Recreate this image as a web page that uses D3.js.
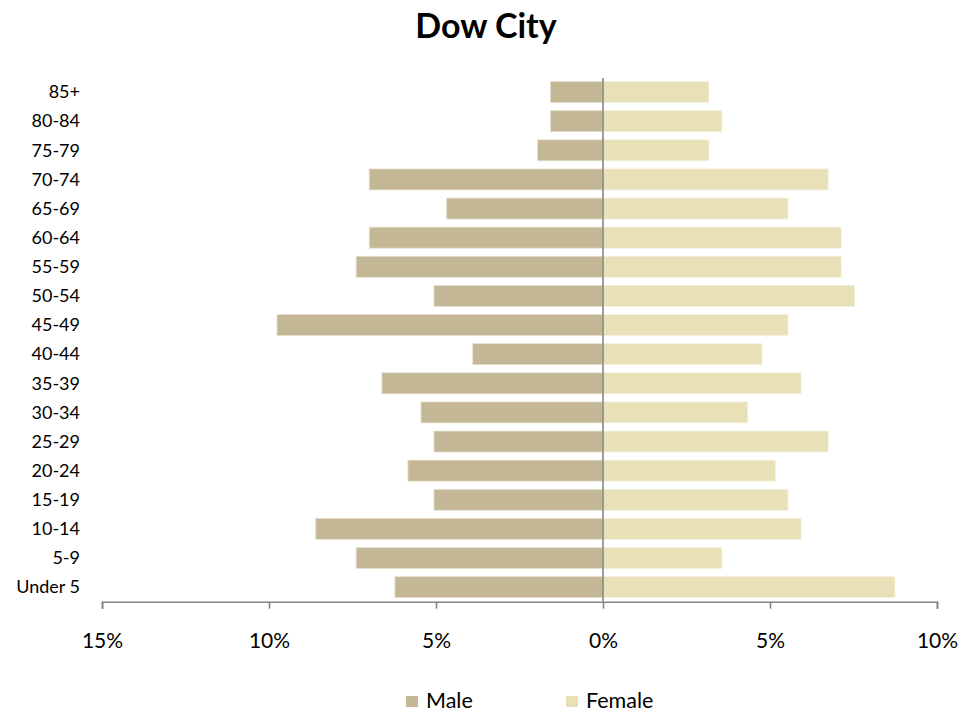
<!DOCTYPE html>
<html lang="en">
<head>
<meta charset="utf-8"/>
<title>Dow City</title>
<script src="https://cdnjs.cloudflare.com/ajax/libs/d3/7.8.5/d3.min.js"></script>
<style>
  body { margin: 0; background: #fff; }
  svg text { font-family: Lato, "Open Sans", sans-serif; fill: #000; }
</style>
</head>
<body>
<div id="chart"></div>
<script>
// age groups, youngest first
var ageGroups = ["Under 5","5-9","10-14","15-19","20-24","25-29","30-34","35-39","40-44",
                 "45-49","50-54","55-59","60-64","65-69","70-74","75-79","80-84","85+"];
// percent of population
var male   = [6.23, 7.39, 8.60, 5.06, 5.84, 5.06, 5.45, 6.62, 3.90,
              9.76, 5.06, 7.39, 7.00, 4.68, 7.00, 1.96, 1.57, 1.57];
var female = [8.74, 3.56, 5.93, 5.54, 5.16, 6.74, 4.33, 5.93, 4.76,
              5.54, 7.53, 7.13, 7.13, 5.54, 6.74, 3.17, 3.56, 3.17];
var tickValues = [-15, -10, -5, 0, 5, 10];
var seriesNames = ["Male", "Female"];

var colors = {Male: "#c4b796", Female: "#e8e1b8"};

var width = 979, height = 713;

var svg = d3.select("#chart").append("svg")
  .attr("width", width)
  .attr("height", height);

var x = d3.scaleLinear().domain([-15, 10]).range([102, 937]);
var y = d3.scaleBand()
  .domain(ageGroups.slice().reverse())
  .range([77.5, 601.7])
  .paddingInner(0.28)
  .paddingOuter(0.14);

// title
svg.append("text")
  .attr("x", 486).attr("y", 38)
  .attr("text-anchor", "middle")
  .style("font-size", "34px")
  .style("font-weight", "bold")
  .text("Dow City");

// bars
svg.append("g").selectAll("rect")
  .data(ageGroups.map(function(a, i){ return {age: a, v: male[i]}; }))
  .enter().append("rect")
  .attr("x", function(d){ return x(-d.v); })
  .attr("y", function(d){ return y(d.age); })
  .attr("width", function(d){ return x(0) - x(-d.v); })
  .attr("height", y.bandwidth())
  .attr("fill", colors.Male)
  .attr("stroke", "#e6dfcc")
  .attr("stroke-width", 0.8);

svg.append("g").selectAll("rect")
  .data(ageGroups.map(function(a, i){ return {age: a, v: female[i]}; }))
  .enter().append("rect")
  .attr("x", x(0))
  .attr("y", function(d){ return y(d.age); })
  .attr("width", function(d){ return x(d.v) - x(0); })
  .attr("height", y.bandwidth())
  .attr("fill", colors.Female)
  .attr("stroke", "#f4f0dd")
  .attr("stroke-width", 0.8);

// category labels
svg.append("g").selectAll("text")
  .data(ageGroups)
  .enter().append("text")
  .attr("x", 80)
  .attr("y", function(d){ return y(d) + y.bandwidth() / 2; })
  .attr("dy", "0.35em")
  .attr("text-anchor", "end")
  .style("font-size", "18px")
  .text(function(d){ return d; });

// zero line
svg.append("line")
  .attr("x1", x(0)).attr("x2", x(0))
  .attr("y1", 78).attr("y2", 601.7)
  .attr("stroke", "#868686")
  .attr("stroke-width", 1.6);

// x axis
var xAxis = d3.axisBottom(x)
  .tickValues(tickValues)
  .tickSize(7)
  .tickPadding(24)
  .tickFormat(function(d){ return Math.abs(d) + "%"; });

var ax = svg.append("g")
  .attr("transform", "translate(0,601.7)")
  .call(xAxis);
ax.select(".domain").attr("stroke", "#868686").attr("stroke-width", 1.6);
ax.selectAll(".tick line").attr("stroke", "#868686").attr("stroke-width", 1.6);
ax.selectAll(".tick text")
  .style("font-size", "21px")
  .style("font-family", "Lato, sans-serif")
  .attr("fill", "#000");

// legend
var legendX = [406, 566];
var legend = svg.append("g").selectAll("g")
  .data(seriesNames)
  .enter().append("g")
  .attr("transform", function(d, i){ return "translate(" + legendX[i] + ",696)"; });
legend.append("rect")
  .attr("width", 12).attr("height", 11)
  .attr("fill", function(d){ return colors[d]; });
legend.append("text")
  .attr("x", 20).attr("y", 11.5)
  .style("font-size", "21.5px")
  .text(function(d){ return d; });
</script>
</body>
</html>
